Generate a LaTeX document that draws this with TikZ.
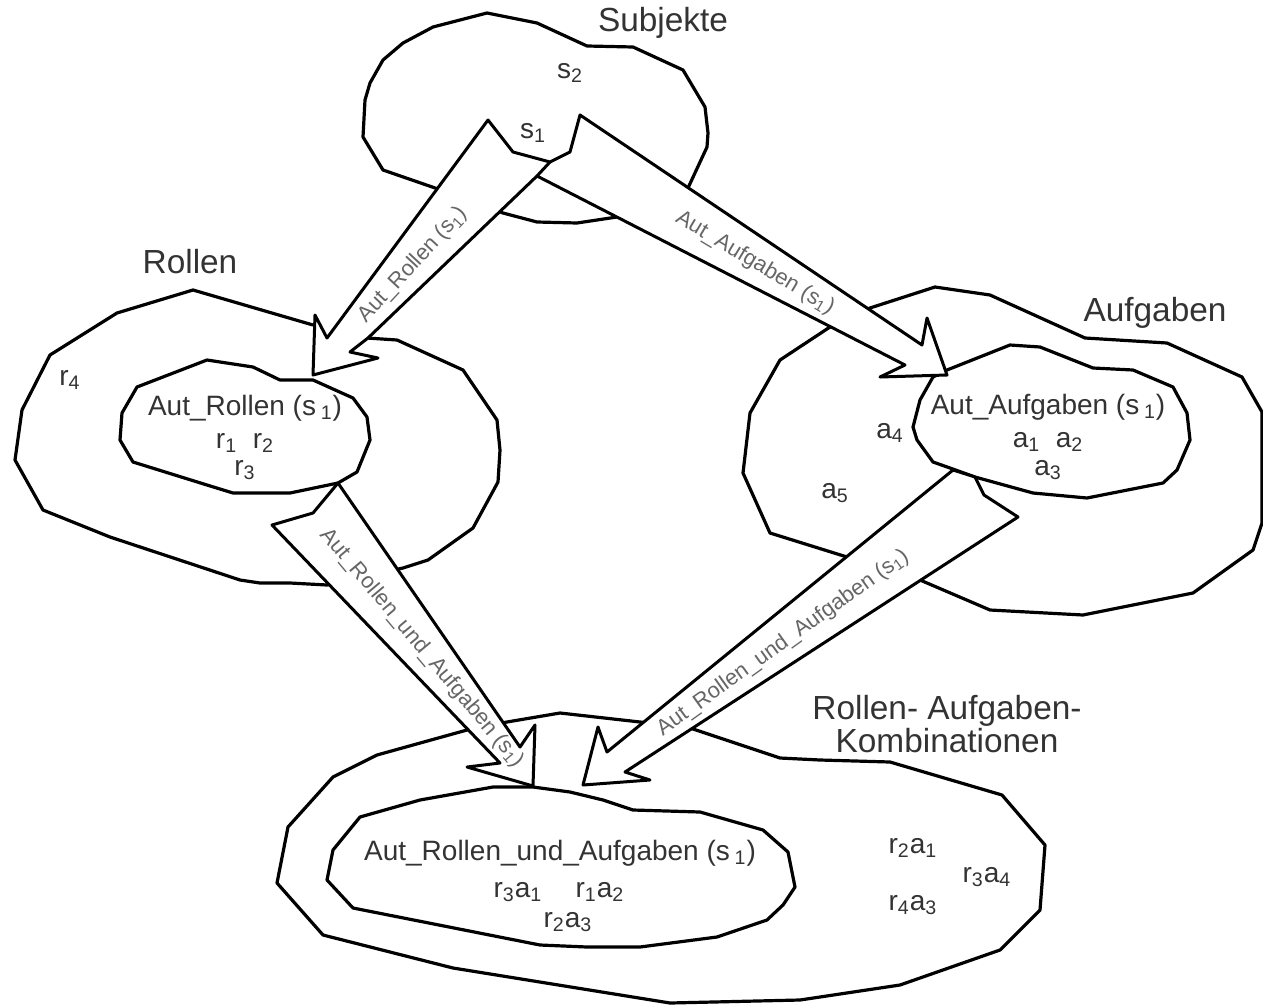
\documentclass[tikz,border=0pt]{standalone}
\usepackage{fontspec}
\setmainfont{Liberation Sans}
\tikzset{blob/.style={draw=black,fill=white,line width=1.6pt,line join=round},
 pfeil/.style={draw=black,fill=white,line width=1.5pt,line join=round},
 titel/.style={font=\fontsize{16.7}{16.5}\selectfont,text=black!80,inner sep=0pt},
 elem/.style={font=\fontsize{14}{16}\selectfont,text=black!80,inner sep=0pt},
 pfeiltext/.style={font=\fontsize{11}{12}\selectfont,text=black!60,inner sep=0pt}}

\begin{document}
\begin{tikzpicture}[x=0.5pt,y=-0.5pt]
 \useasboundingbox (0,0) rectangle (1263,1007);
 % aeussere Mengen
 \path[blob] (438,189) -- (383,170) -- (363,137) -- (365,100) -- (370,83) -- (383,60) -- (403,43)
  -- (433,27) -- (487,13) -- (537,23) -- (587,46) -- (633,47) -- (683,70) -- (705,107)
  -- (708,133) -- (707,147) -- (688,188) -- (640,205) -- (617,217) -- (577,223) -- (537,222)
  -- (503,213) -- (470,200) -- cycle;
 \filldraw[blob] (367,338) -- (397,340) -- (463,370) -- (497,420) -- (500,450) -- (498,482)
  -- (473,528) -- (428,560) -- (403,568) -- (327,585) -- (290,583) -- (260,583) -- (240,580)
  -- (110,537) -- (43,510) -- (15,460) -- (22,410) -- (50,355) -- (117,313) -- (193,290)
  -- (313,325);
 \path[blob] (870,308) -- (935,287) -- (990,295) -- (1085,338) -- (1167,343) -- (1242,377)
  -- (1262,412) -- (1262,523) -- (1253,550) -- (1193,593) -- (1083,615) -- (990,610)
  -- (920,580) -- (847,557) -- (770,533) -- (743,473) -- (750,413) -- (780,360) -- (830,327) -- cycle;
 \path[blob] (507,722) -- (560,713) -- (640,722) -- (690,728) -- (780,758) -- (820,760)
  -- (890,762) -- (1002,795) -- (1045,845) -- (1040,910) -- (1000,950) -- (900,985)
  -- (800,1000) -- (670,1003) -- (453,968) -- (323,935) -- (277,883) -- (288,827)
  -- (333,777) -- (377,755) -- (467,730) -- cycle;
 % innere Mengen
 \path[blob] (137,387) -- (207,360) -- (253,367) -- (280,380) -- (313,380) -- (353,398)
  -- (367,417) -- (370,440) -- (357,472) -- (338,483) -- (290,493) -- (233,493) -- (207,485)
  -- (133,462) -- (120,440) -- (122,413) -- cycle;
 \path[blob] (947,370) -- (1010,345) -- (1040,347) -- (1093,368) -- (1133,370) -- (1173,387)
  -- (1187,413) -- (1190,440) -- (1177,470) -- (1163,483) -- (1087,498) -- (1033,493)
  -- (975,477) -- (950,468) -- (933,462) -- (917,440) -- (913,427) -- (920,400) -- (933,377) -- cycle;
 \path[blob] (493,787) -- (533,787) -- (570,792) -- (603,800) -- (633,810) -- (700,812)
  -- (763,830) -- (788,852) -- (795,887) -- (783,905) -- (767,920) -- (717,937) -- (640,947)
  -- (587,947) -- (540,945) -- (353,908) -- (327,880) -- (333,850) -- (360,817) -- (420,800) -- cycle;
 % Pfeile
 \path[pfeil] (488,120) -- (327,338) -- (315,315) -- (313,375) -- (378,358) -- (350,352)
  -- (368,338) -- (537,176) -- (905,365) -- (880,377) -- (947,375) -- (927,318) -- (922,345)
  -- (580,115) -- (570,152) -- (550,162) -- (513,152) -- cycle;
 \draw[line width=1.5pt] (550,162) -- (537,176);
 \path[pfeil] (272,525) -- (313,513) -- (338,483) -- (520,747) -- (535,725) -- (533,786)
  -- (467,767) -- (500,763) -- cycle;
 \path[pfeil] (953,470) -- (607,752) -- (598,727) -- (583,785) -- (650,780) -- (625,772)
  -- (1018,517) -- (984,495) -- (975,477) -- cycle;
 % Beschriftung
 \node[titel] (subjekte) at (663,23) {Subjekte};
 \node[titel] (rollen) at (190,262) {Rollen};
 \node[titel] (aufgaben) at (1155,313) {Aufgaben};
 \node[titel,align=center] (kombi) at (947,724) {Rollen- Aufgaben-\\Kombinationen};
 \node[elem] (autr) at (245,408) {Aut\_Rollen (s\,\textsubscript{1})};
 \node[elem] (auta) at (1048,407) {Aut\_Aufgaben (s\,\textsubscript{1})};
 \node[elem] (autra) at (560,853) {Aut\_Rollen\_und\_Aufgaben (s\,\textsubscript{1})};
 \foreach \nm/\px/\py/\txt in {s2/570/73/{s\textsubscript{2}}, s1/533/133/{s\textsubscript{1}},
   r4/70/380/{r\textsubscript{4}}, r12/245/443/{r\textsubscript{1}\ \ r\textsubscript{2}},
   r3/245/470/{r\textsubscript{3}}, a4/890/433/{a\textsubscript{4}}, a5/835/493/{a\textsubscript{5}},
   a12/1048/442/{a\textsubscript{1}\ \ a\textsubscript{2}}, a3/1048/470/{a\textsubscript{3}},
   r3a1/518/892/{r\textsubscript{3}a\textsubscript{1}}, r1a2/600/892/{r\textsubscript{1}a\textsubscript{2}},
   r2a3/568/922/{r\textsubscript{2}a\textsubscript{3}}, r2a1/913/848/{r\textsubscript{2}a\textsubscript{1}},
   r3a4/987/877/{r\textsubscript{3}a\textsubscript{4}}, r4a3/913/905/{r\textsubscript{4}a\textsubscript{3}}}
  \node[elem] (\nm) at (\px,\py) {\txt};
 \node[pfeiltext,rotate=47] (pa) at (413,265) {Aut\_Rollen (s\textsubscript{1})};
 \node[pfeiltext,rotate=-31] (pb) at (755,263) {Aut\_Aufgaben (s\textsubscript{1})};
 \node[pfeiltext,rotate=-50] (pc) at (422,648) {Aut\_Rollen\_und\_Aufgaben (s\textsubscript{1})};
 \node[pfeiltext,rotate=35.7] (pd) at (783,643) {Aut\_Rollen\_und\_Aufgaben (s\textsubscript{1})};
\end{tikzpicture}
\end{document}
